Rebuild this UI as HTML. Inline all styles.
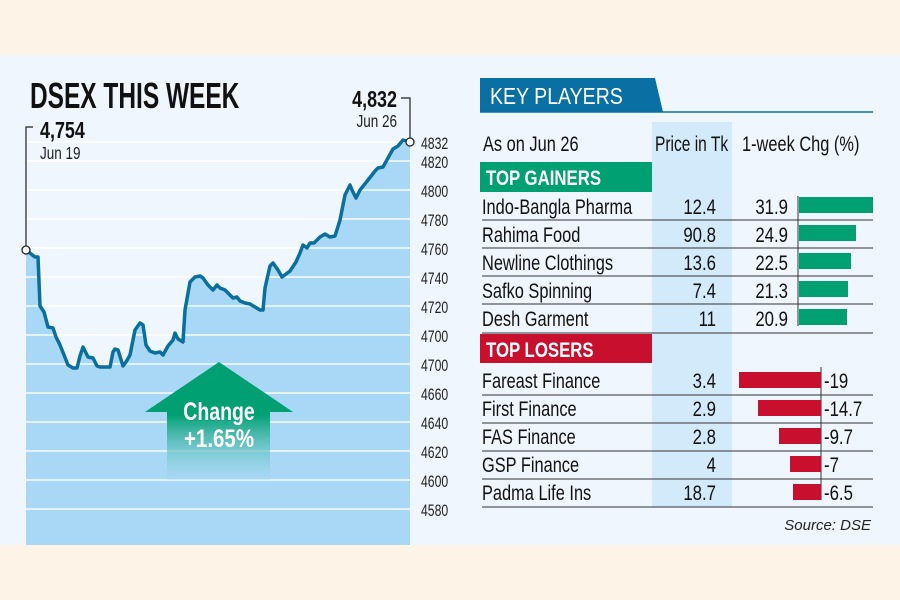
<!DOCTYPE html>
<html><head><meta charset="utf-8"><style>
html,body{margin:0;padding:0;background:#fdf3e7}
svg{display:block;font-family:"Liberation Sans",sans-serif}
</style></head><body>
<svg width="900" height="600" viewBox="0 0 900 600" xmlns="http://www.w3.org/2000/svg">
<defs>
<linearGradient id="fade" x1="0" y1="0" x2="0" y2="1">
<stop offset="0" stop-color="#00a073"/><stop offset="0.45" stop-color="#00a073"/><stop offset="1" stop-color="#a6d8f4" stop-opacity="0.3"/>
</linearGradient>
</defs>
<rect x="0" y="0" width="900" height="600" fill="#fdf3e7"/>
<rect x="0" y="55" width="900" height="490" fill="#eff6fd"/>
<path d="M26,250 L35,257 38,257 40,306 44,312 48,327 53,328 56,337 60,345 64,355 68,365 73,368 77,368 80,356 83,347 88,357 93,358 97,366 100,367 110,367 113,352 115,349 118,350 123,366 126,362 130,355 135,330 140,323 143,325 146,345 150,351 155,353 160,352 163,355 168,346 173,340 175,333 178,339 183,342 185,310 190,282 195,277 200,276 203,278 208,285 213,290 217,285 220,288 225,290 230,295 233,298 237,297 240,301 245,303 250,304 255,307 260,310 263,310 265,288 270,266 273,263 278,270 282,277 290,271 296,262 300,253 303,245 307,248 310,243 314,243 320,237 325,234 330,237 335,236 340,220 345,195 350,185 352,190 356,198 360,190 368,180 375,171 378,168 383,167 388,158 393,149 398,146 403,140 410,142 L410,545 L26,545 Z" fill="#a8d8f5"/>
<g stroke="#ffffff" stroke-width="1.5" opacity="0.9">
<line x1="26" x2="410" y1="142" y2="142"/><line x1="26" x2="410" y1="161" y2="161"/><line x1="26" x2="410" y1="190" y2="190"/><line x1="26" x2="410" y1="219" y2="219"/><line x1="26" x2="410" y1="248" y2="248"/><line x1="26" x2="410" y1="277" y2="277"/><line x1="26" x2="410" y1="306" y2="306"/><line x1="26" x2="410" y1="335" y2="335"/><line x1="26" x2="410" y1="364" y2="364"/><line x1="26" x2="410" y1="393" y2="393"/><line x1="26" x2="410" y1="422" y2="422"/><line x1="26" x2="410" y1="451" y2="451"/><line x1="26" x2="410" y1="480" y2="480"/><line x1="26" x2="410" y1="509" y2="509"/>
</g>
<polyline fill="none" stroke="#0a6f9e" stroke-width="3.5" stroke-linejoin="round" points="26,250 35,257 38,257 40,306 44,312 48,327 53,328 56,337 60,345 64,355 68,365 73,368 77,368 80,356 83,347 88,357 93,358 97,366 100,367 110,367 113,352 115,349 118,350 123,366 126,362 130,355 135,330 140,323 143,325 146,345 150,351 155,353 160,352 163,355 168,346 173,340 175,333 178,339 183,342 185,310 190,282 195,277 200,276 203,278 208,285 213,290 217,285 220,288 225,290 230,295 233,298 237,297 240,301 245,303 250,304 255,307 260,310 263,310 265,288 270,266 273,263 278,270 282,277 290,271 296,262 300,253 303,245 307,248 310,243 314,243 320,237 325,234 330,237 335,236 340,220 345,195 350,185 352,190 356,198 360,190 368,180 375,171 378,168 383,167 388,158 393,149 398,146 403,140 410,142"/>
<polyline fill="none" stroke="#222" stroke-width="1.2" points="33,127 26,127 26,250"/>
<polyline fill="none" stroke="#222" stroke-width="1.2" points="401,98 410,98 410,142"/>
<circle cx="26" cy="250" r="4" fill="#fff" stroke="#222" stroke-width="1.3"/>
<circle cx="410" cy="142" r="4" fill="#fff" stroke="#222" stroke-width="1.3"/>
<text transform="translate(40,138) scale(0.78,1)" font-size="23" font-weight="bold" fill="#111">4,754</text>
<text transform="translate(40,159) scale(0.75,1)" font-size="18" fill="#222">Jun 19</text>
<text transform="translate(397,107) scale(0.78,1)" font-size="23" font-weight="bold" fill="#111" text-anchor="end">4,832</text>
<text transform="translate(397,127) scale(0.75,1)" font-size="18" fill="#222" text-anchor="end">Jun 26</text>
<text transform="translate(30,108) scale(0.68,1)" font-size="36" font-weight="bold" fill="#111">DSEX THIS WEEK</text>
<g font-size="17" fill="#222">
<text transform="translate(421,149) scale(0.72,1)">4832</text>
<text transform="translate(421,168) scale(0.72,1)">4820</text>
<text transform="translate(421,197) scale(0.72,1)">4800</text>
<text transform="translate(421,226) scale(0.72,1)">4780</text>
<text transform="translate(421,255) scale(0.72,1)">4760</text>
<text transform="translate(421,284) scale(0.72,1)">4740</text>
<text transform="translate(421,313) scale(0.72,1)">4720</text>
<text transform="translate(421,342) scale(0.72,1)">4700</text>
<text transform="translate(421,371) scale(0.72,1)">4700</text>
<text transform="translate(421,400) scale(0.72,1)">4660</text>
<text transform="translate(421,429) scale(0.72,1)">4640</text>
<text transform="translate(421,458) scale(0.72,1)">4620</text>
<text transform="translate(421,487) scale(0.72,1)">4600</text>
<text transform="translate(421,516) scale(0.72,1)">4580</text>
</g>
<polygon points="219,362 293,412 270,412 270,480 167,480 167,412 145,412" fill="url(#fade)"/>
<text transform="translate(219,420) scale(0.78,1)" font-size="25" font-weight="bold" fill="#fff" text-anchor="middle">Change</text>
<text transform="translate(219,447) scale(0.82,1)" font-size="25" font-weight="bold" fill="#fff" text-anchor="middle">+1.65%</text>

<polygon points="480,78 655,78 663,112 480,112" fill="#0a6fa3"/>
<line x1="480" x2="873" y1="112" y2="112" stroke="#0a6fa3" stroke-width="1.5"/>
<text transform="translate(490,104) scale(0.85,1)" font-size="23" fill="#fff">KEY PLAYERS</text>
<rect x="652" y="122" width="80" height="385" fill="#d3eafb"/>
<g font-size="21" fill="#111">
<text transform="translate(483,151) scale(0.78,1)">As on Jun 26</text>
<text transform="translate(655,151) scale(0.74,1)">Price in Tk</text>
<text transform="translate(742,151) scale(0.78,1)">1-week Chg (%)</text>
</g>
<rect x="480" y="162" width="172" height="30" fill="#00a073"/>
<text transform="translate(486,185) scale(0.8,1)" font-size="21" font-weight="bold" fill="#fff">TOP GAINERS</text>
<rect x="480" y="334" width="172" height="29" fill="#c8102e"/>
<text transform="translate(486,357) scale(0.8,1)" font-size="21" font-weight="bold" fill="#fff">TOP LOSERS</text>
<g stroke="#333" stroke-width="1">
<line x1="482" x2="873" y1="220" y2="220"/><line x1="482" x2="873" y1="248" y2="248"/><line x1="482" x2="873" y1="276" y2="276"/><line x1="482" x2="873" y1="304" y2="304"/><line x1="482" x2="873" y1="333" y2="333"/>
<line x1="482" x2="873" y1="395" y2="395"/><line x1="482" x2="873" y1="423" y2="423"/><line x1="482" x2="873" y1="451" y2="451"/><line x1="482" x2="873" y1="479" y2="479"/><line x1="482" x2="873" y1="507" y2="507"/>
<line x1="798" x2="798" y1="196" y2="326"/>
<line x1="821" x2="821" y1="367" y2="500"/>
</g>
<g fill="#00a073">
<rect x="799" y="197" width="74" height="16"/>
<rect x="799" y="225" width="57" height="16"/>
<rect x="799" y="253" width="52" height="16"/>
<rect x="799" y="281" width="49" height="16"/>
<rect x="799" y="309" width="48" height="16"/>
</g>
<g fill="#c8102e">
<rect x="739" y="372" width="82" height="16"/>
<rect x="758" y="400" width="63" height="16"/>
<rect x="779" y="428" width="42" height="16"/>
<rect x="790" y="456" width="31" height="16"/>
<rect x="793" y="484" width="28" height="16"/>
</g>
<g font-size="21" fill="#111">
<text transform="translate(482,214) scale(0.78,1)">Indo-Bangla Pharma</text>
<text transform="translate(482,242) scale(0.78,1)">Rahima Food</text>
<text transform="translate(482,270) scale(0.78,1)">Newline Clothings</text>
<text transform="translate(482,298) scale(0.78,1)">Safko Spinning</text>
<text transform="translate(482,326) scale(0.78,1)">Desh Garment</text>
<text transform="translate(482,388) scale(0.78,1)">Fareast Finance</text>
<text transform="translate(482,416) scale(0.78,1)">First Finance</text>
<text transform="translate(482,444) scale(0.78,1)">FAS Finance</text>
<text transform="translate(482,472) scale(0.78,1)">GSP Finance</text>
<text transform="translate(482,500) scale(0.78,1)">Padma Life Ins</text>
</g>
<g font-size="21" fill="#111" text-anchor="end">
<text transform="translate(716,214) scale(0.8,1)">12.4</text>
<text transform="translate(716,242) scale(0.8,1)">90.8</text>
<text transform="translate(716,270) scale(0.8,1)">13.6</text>
<text transform="translate(716,298) scale(0.8,1)">7.4</text>
<text transform="translate(716,326) scale(0.8,1)">11</text>
<text transform="translate(716,388) scale(0.8,1)">3.4</text>
<text transform="translate(716,416) scale(0.8,1)">2.9</text>
<text transform="translate(716,444) scale(0.8,1)">2.8</text>
<text transform="translate(716,472) scale(0.8,1)">4</text>
<text transform="translate(716,500) scale(0.8,1)">18.7</text>
<text transform="translate(788,214) scale(0.8,1)">31.9</text>
<text transform="translate(788,242) scale(0.8,1)">24.9</text>
<text transform="translate(788,270) scale(0.8,1)">22.5</text>
<text transform="translate(788,298) scale(0.8,1)">21.3</text>
<text transform="translate(788,326) scale(0.8,1)">20.9</text>
</g>
<g font-size="21" fill="#111">
<text transform="translate(824,388) scale(0.8,1)">-19</text>
<text transform="translate(824,416) scale(0.8,1)">-14.7</text>
<text transform="translate(824,444) scale(0.8,1)">-9.7</text>
<text transform="translate(824,472) scale(0.8,1)">-7</text>
<text transform="translate(824,500) scale(0.8,1)">-6.5</text>
</g>
<text x="871" y="530" font-size="15" font-style="italic" fill="#222" text-anchor="end">Source: DSE</text>
</svg>
</body></html>
